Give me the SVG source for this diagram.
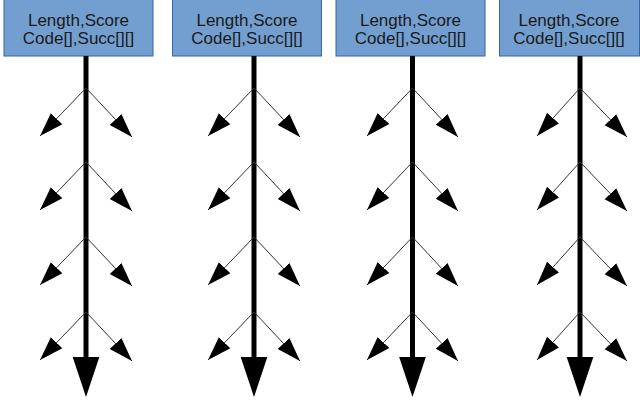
<svg xmlns="http://www.w3.org/2000/svg" width="640" height="401" viewBox="0 0 640 401">
<defs>
<style>
.box{fill:#729fcf;stroke:#3465a4;stroke-width:1}
.lbl{font-family:"Liberation Sans",Arial,sans-serif;font-size:17px;fill:#1a1a1a;text-anchor:middle}
.main{stroke:#000;stroke-width:5;fill:none;marker-end:url(#big)}
.br{stroke:#333;stroke-width:1;fill:none;marker-end:url(#small)}
</style>
<marker id="big" markerUnits="userSpaceOnUse" markerWidth="40" markerHeight="40" viewBox="0 -12 36 24" refX="0" refY="0" orient="auto">
<path d="M0,-12 L36,0 L0,12 Z" fill="#000"/>
</marker>
<marker id="small" markerUnits="userSpaceOnUse" markerWidth="24" markerHeight="24" viewBox="0 -6 18 12" refX="18" refY="0" orient="auto">
<path d="M0,-6 L18,0 L0,6 Z" fill="#000"/>
</marker>
</defs>
<g id="node1"><rect class="box" x="4" y="-1" width="149" height="57"/><text class="lbl" x="78.5" y="26">Length,Score</text><text class="lbl" x="78.5" y="44">Code[],Succ[][]</text></g>
<g id="node2"><rect class="box" x="172.5" y="-1" width="149" height="57"/><text class="lbl" x="247" y="26">Length,Score</text><text class="lbl" x="247" y="44">Code[],Succ[][]</text></g>
<g id="node3"><rect class="box" x="336" y="-1" width="149" height="57"/><text class="lbl" x="410.5" y="26">Length,Score</text><text class="lbl" x="410.5" y="44">Code[],Succ[][]</text></g>
<g id="node4"><rect class="box" x="499.5" y="-1" width="140" height="57"/><text class="lbl" x="569" y="26">Length,Score</text><text class="lbl" x="569" y="44">Code[],Succ[][]</text></g>
<g id="connectors">
<path class="main" d="M86,56 V357"/>
<path class="main" d="M254,56 V357"/>
<path class="main" d="M412.5,56 V357"/>
<path class="main" d="M580,56 V357"/>
<g id="b1">
<path class="br" d="M86,88 L40,136"/><path class="br" d="M86,88 L132,137"/>
<path class="br" d="M86,162 L40,210"/><path class="br" d="M86,162 L132,211"/>
<path class="br" d="M86,237 L40,285"/><path class="br" d="M86,237 L132,286"/>
<path class="br" d="M86,312 L40,360"/><path class="br" d="M86,312 L132,361"/>
</g>
<g id="b2">
<path class="br" d="M254,88 L208,136"/><path class="br" d="M254,88 L300,137"/>
<path class="br" d="M254,162 L208,210"/><path class="br" d="M254,162 L300,211"/>
<path class="br" d="M254,237 L208,285"/><path class="br" d="M254,237 L300,286"/>
<path class="br" d="M254,312 L208,360"/><path class="br" d="M254,312 L300,361"/>
</g>
<g id="b3">
<path class="br" d="M412.5,88 L367,136"/><path class="br" d="M412.5,88 L458,137"/>
<path class="br" d="M412.5,162 L367,210"/><path class="br" d="M412.5,162 L458,211"/>
<path class="br" d="M412.5,237 L367,285"/><path class="br" d="M412.5,237 L458,286"/>
<path class="br" d="M412.5,312 L367,360"/><path class="br" d="M412.5,312 L458,361"/>
</g>
<g id="b4">
<path class="br" d="M580,88 L537,136"/><path class="br" d="M580,88 L627,137"/>
<path class="br" d="M580,162 L537,210"/><path class="br" d="M580,162 L627,211"/>
<path class="br" d="M580,237 L537,285"/><path class="br" d="M580,237 L627,286"/>
<path class="br" d="M580,312 L537,360"/><path class="br" d="M580,312 L627,361"/>
</g>
</g>
</svg>
